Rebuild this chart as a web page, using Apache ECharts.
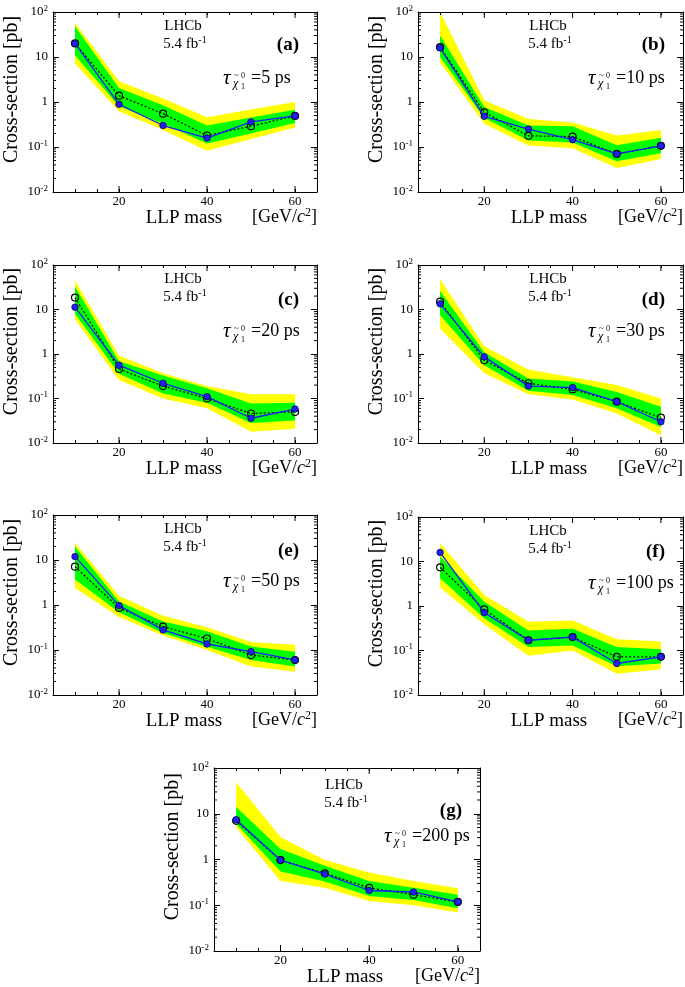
<!DOCTYPE html>
<html><head><meta charset="utf-8">
<script src="https://cdn.jsdelivr.net/npm/echarts@6/dist/echarts.min.js"></script>
<style>html,body{margin:0;padding:0;background:#fff}#c{width:685px;height:987px}</style>
</head><body><div id="c"></div>
<script>
// ---------------- DATA ----------------
const masses = [10, 20, 30, 40, 50, 60];
const panelTags = ['(a)', '(b)', '(c)', '(d)', '(e)', '(f)', '(g)'];
const lifetimes = ['5', '10', '20', '30', '50', '100', '200'];
const xTickLabels = [20, 40, 60];
const yMinorMultipliers = [2, 3, 4, 5, 6, 7, 8, 9];
const yDecades = [0.01, 0.1, 1, 10];

const observed = [
  [20, 0.89, 0.30, 0.158, 0.36, 0.49],
  [16, 0.48, 0.25, 0.145, 0.070, 0.106],
  [11.3, 0.56, 0.22, 0.11, 0.036, 0.058],
  [13.4, 0.86, 0.19, 0.176, 0.085, 0.030],
  [11.9, 0.97, 0.28, 0.136, 0.092, 0.060],
  [16, 0.71, 0.17, 0.20, 0.051, 0.072],
  [7.4, 0.97, 0.48, 0.21, 0.195, 0.118]
];
const expected = [
  [20, 1.38, 0.55, 0.18, 0.29, 0.49],
  [16.5, 0.59, 0.177, 0.17, 0.070, 0.106],
  [18.5, 0.46, 0.19, 0.10, 0.046, 0.050],
  [15, 0.72, 0.22, 0.16, 0.085, 0.037],
  [7.1, 0.86, 0.33, 0.18, 0.077, 0.060],
  [7.4, 0.84, 0.17, 0.20, 0.072, 0.072],
  [7.0, 0.97, 0.50, 0.24, 0.17, 0.118]
];
const greenLow = [
  [11, 0.80, 0.33, 0.12, 0.20, 0.34],
  [10, 0.44, 0.14, 0.126, 0.048, 0.073],
  [8, 0.36, 0.13, 0.08, 0.028, 0.032],
  [7.4, 0.56, 0.15, 0.12, 0.060, 0.023],
  [3.7, 0.69, 0.24, 0.118, 0.060, 0.043],
  [4.2, 0.53, 0.12, 0.13, 0.044, 0.051],
  [6.0, 0.55, 0.33, 0.16, 0.13, 0.086]
];
const greenHigh = [
  [48, 2.05, 0.85, 0.30, 0.45, 0.67],
  [30, 0.77, 0.30, 0.29, 0.11, 0.16],
  [33, 0.69, 0.33, 0.17, 0.077, 0.080],
  [26, 1.1, 0.28, 0.24, 0.14, 0.065],
  [20, 1.2, 0.43, 0.26, 0.12, 0.092],
  [13, 1.25, 0.28, 0.31, 0.12, 0.106],
  [14, 1.7, 0.73, 0.34, 0.24, 0.17]
];
const yellowLow = [
  [7.2, 0.62, 0.24, 0.083, 0.15, 0.27],
  [7.5, 0.33, 0.108, 0.094, 0.034, 0.054],
  [6, 0.26, 0.10, 0.06, 0.018, 0.021],
  [3.7, 0.37, 0.125, 0.095, 0.046, 0.015],
  [2.4, 0.54, 0.21, 0.10, 0.043, 0.033],
  [2.6, 0.39, 0.076, 0.10, 0.030, 0.038],
  [5.0, 0.34, 0.24, 0.124, 0.10, 0.069]
];
const yellowHigh = [
  [58, 2.9, 1.2, 0.46, 0.68, 1.0],
  [100, 1.09, 0.42, 0.35, 0.18, 0.24],
  [45, 0.93, 0.37, 0.19, 0.125, 0.125],
  [48, 1.5, 0.45, 0.30, 0.20, 0.10],
  [24, 1.6, 0.58, 0.32, 0.15, 0.13],
  [26, 1.77, 0.44, 0.47, 0.18, 0.16],
  [49, 3.1, 0.97, 0.52, 0.34, 0.235]
];

// ---------------- LAYOUT / STYLE ----------------
const layout = [
  [53, 12, 264, 180],
  [418, 12, 265, 180],
  [53, 265, 264, 178],
  [418, 265, 265, 178],
  [53, 515, 264, 180],
  [418, 517, 265, 178],
  [214, 768, 266, 183]
];
const tagShift = [0, 0, 2, 2, 3, 2, 10];
const FONT = '"Liberation Serif", "DejaVu Serif", serif';
const X_MIN = 5, X_MAX = 65, Y_MIN = 0.01, Y_MAX = 100;

function yLabel(v) {
  if (Math.abs(v - 1) < 1e-9) return '{b|1}';
  if (Math.abs(v - 10) < 1e-9) return '{b|10}';
  const e = Math.round(Math.log10(v));
  return '{b|10}{s|' + e + '}';
}

const option = {
  animation: false,
  backgroundColor: '#fff',
  grid: [], xAxis: [], yAxis: [], series: [], graphic: []
};

const axisLine = { show: true, onZero: false, lineStyle: { color: '#000', width: 1 } };

layout.forEach((g, i) => {
  option.grid.push({ left: g[0], top: g[1], width: g[2], height: g[3], show: false, outerBoundsMode: 'none', containLabel: false });
  const xb = 2 * i, yb = 2 * i;
  option.xAxis.push({
    gridIndex: i, type: 'value', min: X_MIN, max: X_MAX, interval: 5, position: 'bottom', z: 10,
    axisLine: axisLine, splitLine: { show: false },
    axisTick: { inside: true, length: 3, lineStyle: { color: '#000' } },
    axisLabel: {
      margin: 3, color: '#000', fontFamily: FONT, fontSize: 13,
      formatter: v => xTickLabels.indexOf(v) >= 0 ? String(v) : ''
    }
  });
  option.xAxis.push({
    gridIndex: i, type: 'value', min: X_MIN, max: X_MAX, interval: 5, position: 'top', z: 10,
    axisLine: axisLine, splitLine: { show: false },
    axisTick: { inside: true, length: 3, lineStyle: { color: '#000' } },
    axisLabel: { show: false }
  });
  option.yAxis.push({
    gridIndex: i, type: 'log', logBase: 10, min: Y_MIN, max: Y_MAX, splitNumber: 4, position: 'left', z: 10,
    axisLine: axisLine, splitLine: { show: false },
    axisTick: { inside: true, length: 6, lineStyle: { color: '#000' } },
    axisLabel: {
      margin: 5, color: '#000', formatter: yLabel,
      rich: {
        b: { fontFamily: FONT, fontSize: 13, color: '#000', lineHeight: 16 },
        s: { fontFamily: FONT, fontSize: 9, color: '#000', verticalAlign: 'top', lineHeight: 9 }
      }
    }
  });
  option.yAxis.push({
    gridIndex: i, type: 'log', logBase: 10, min: Y_MIN, max: Y_MAX, splitNumber: 4, position: 'right', z: 10,
    axisLine: axisLine, splitLine: { show: false },
    axisTick: { inside: true, length: 6, lineStyle: { color: '#000' } },
    axisLabel: { show: false }
  });

  const bandSeries = (lo, hi, color) => ({
    type: 'custom', xAxisIndex: xb, yAxisIndex: yb, silent: true, z: 1,
    data: masses.map((m, j) => [m, lo[j], hi[j]]),
    encode: { x: 0, y: [1, 2] },
    renderItem: (params, api) => {
      if (params.dataIndex !== 0) return null;
      const pts = [];
      masses.forEach((m, j) => pts.push(api.coord([m, hi[j]])));
      for (let j = masses.length - 1; j >= 0; j--) pts.push(api.coord([masses[j], lo[j]]));
      return { type: 'polygon', shape: { points: pts }, style: { fill: color, stroke: null } };
    }
  });
  option.series.push(bandSeries(yellowLow[i], yellowHigh[i], '#ffff00'));
  option.series.push(bandSeries(greenLow[i], greenHigh[i], '#00ff00'));

  // minor log ticks and longer major x ticks (axis decoration)
  option.series.push({
    type: 'custom', xAxisIndex: xb, yAxisIndex: yb, silent: true, z: 20,
    data: [[X_MIN, 1]],
    renderItem: (params, api) => {
      const children = [];
      const ls = { stroke: '#000', lineWidth: 1 };
      yDecades.forEach(d => yMinorMultipliers.forEach(k => {
        const l = api.coord([X_MIN, k * d]);
        const r = api.coord([X_MAX, k * d]);
        children.push({ type: 'line', shape: { x1: l[0], y1: l[1], x2: l[0] + 3, y2: l[1] }, style: ls });
        children.push({ type: 'line', shape: { x1: r[0], y1: r[1], x2: r[0] - 3, y2: r[1] }, style: ls });
      }));
      xTickLabels.forEach(x => {
        const b = api.coord([x, Y_MIN]);
        const t = api.coord([x, Y_MAX]);
        children.push({ type: 'line', shape: { x1: b[0], y1: b[1], x2: b[0], y2: b[1] - 6 }, style: ls });
        children.push({ type: 'line', shape: { x1: t[0], y1: t[1], x2: t[0], y2: t[1] + 6 }, style: ls });
      });
      return { type: 'group', children: children };
    }
  });

  option.series.push({
    type: 'line', xAxisIndex: xb, yAxisIndex: yb, z: 5, silent: true,
    data: masses.map((m, j) => [m, expected[i][j]]),
    lineStyle: { color: '#000', width: 1.2, type: [2, 2] },
    symbol: 'circle', symbolSize: 7,
    itemStyle: { color: 'rgba(0,0,0,0)', borderColor: '#000', borderWidth: 1.2 }
  });
  option.series.push({
    type: 'line', xAxisIndex: xb, yAxisIndex: yb, z: 6, silent: true,
    data: masses.map((m, j) => [m, observed[i][j]]),
    lineStyle: { color: '#1a1aff', width: 1.3 },
    symbol: 'circle', symbolSize: 6.5,
    itemStyle: { color: '#2222ee', borderColor: '#000070', borderWidth: 0.8 }
  });

  // texts
  const W = g[2], H = g[3];
  const dy = (i === 6 ? 2 : 0);
  const children = [
    { type: 'text', x: -41, y: H * 0.43, rotation: Math.PI / 2,
      style: { text: 'Cross-section [pb]', font: '20px ' + FONT, fill: '#000', align: 'center', verticalAlign: 'middle' } },
    { type: 'text', x: 131, y: H + 26.5,
      style: { text: 'LLP mass', font: '19px ' + FONT, fill: '#000', align: 'center', verticalAlign: 'middle' } },
    { type: 'text', x: W, y: H + 25,
      style: { text: '{n|[GeV/}{i|c}{s|2}{n|]}', align: 'right', verticalAlign: 'middle',
        rich: {
          n: { fontFamily: FONT, fontSize: 18, color: '#000', lineHeight: 20 },
          i: { fontFamily: FONT, fontSize: 18, fontStyle: 'italic', color: '#000', lineHeight: 20 },
          s: { fontFamily: FONT, fontSize: 12, color: '#000', verticalAlign: 'top', lineHeight: 11 }
        } } },
    { type: 'text', x: 130, y: 14 + (i === 6 ? 3 : 0),
      style: { text: 'LHCb', font: '15px ' + FONT, fill: '#000', align: 'center', verticalAlign: 'middle' } },
    { type: 'text', x: 132, y: 32 + (i === 6 ? 3 : 0),
      style: { text: '{n|5.4 fb}{s|-1}', align: 'center', verticalAlign: 'middle',
        rich: {
          n: { fontFamily: FONT, fontSize: 15, color: '#000', lineHeight: 18 },
          s: { fontFamily: FONT, fontSize: 10, color: '#000', verticalAlign: 'top', lineHeight: 10 }
        } } },
    { type: 'text', x: W - 18, y: 33 + tagShift[i],
      style: { text: panelTags[i], font: 'bold 19px ' + FONT, fill: '#000', align: 'right', verticalAlign: 'middle' } },
    // tau label
    { type: 'text', x: 170, y: 66 + dy,
      style: { text: 'τ', font: 'italic 21px ' + FONT, fill: '#000', align: 'left', verticalAlign: 'middle' } },
    { type: 'text', x: 180, y: 72 + dy,
      style: { text: 'χ', font: 'italic 12px ' + FONT, fill: '#000', align: 'left', verticalAlign: 'middle' } },
    { type: 'text', x: 181, y: 64 + dy,
      style: { text: '~', font: '9px ' + FONT, fill: '#000', align: 'left', verticalAlign: 'middle' } },
    { type: 'text', x: 188, y: 64 + dy,
      style: { text: '0', font: '8px ' + FONT, fill: '#000', align: 'left', verticalAlign: 'middle' } },
    { type: 'text', x: 188, y: 75 + dy,
      style: { text: '1', font: '8px ' + FONT, fill: '#000', align: 'left', verticalAlign: 'middle' } },
    { type: 'text', x: 198, y: 66 + dy,
      style: { text: '=' + lifetimes[i] + ' ps', font: '18px ' + FONT, fill: '#000', align: 'left', verticalAlign: 'middle' } }
  ];
  option.graphic.push({ type: 'group', x: g[0], y: g[1], silent: true, z: 100, children: children });
});

const chart = echarts.init(document.getElementById('c'), null, { renderer: 'canvas', width: 685, height: 987 });
chart.setOption(option);
</script>
</body></html>
